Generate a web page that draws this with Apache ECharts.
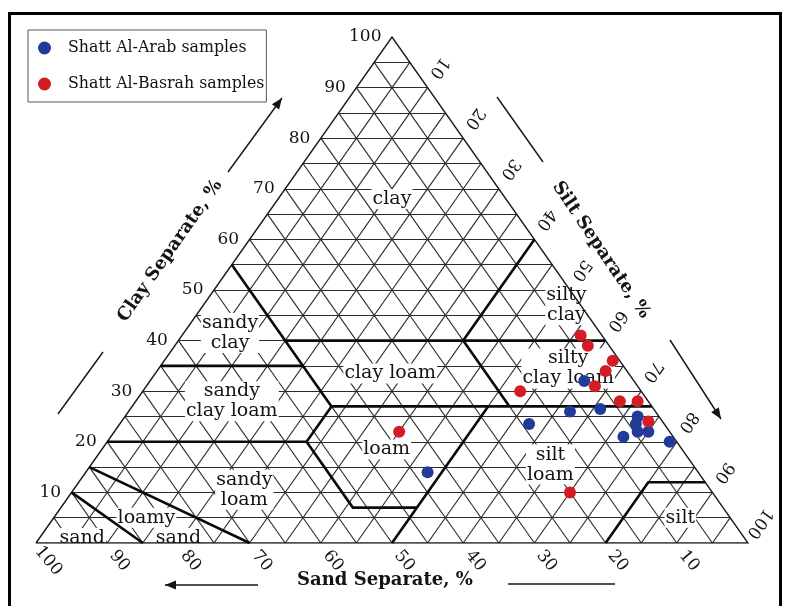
<!DOCTYPE html>
<html>
<head>
<meta charset="utf-8">
<script src="https://cdn.jsdelivr.net/npm/echarts@6/dist/echarts.min.js"></script>
<style>
  html, body { margin: 0; padding: 0; background: #fff; }
  #chart { width: 787px; height: 606px; }
</style>
</head>
<body>
<div id="chart"></div>
<script>
// Sample compositions, percent of sand / silt / clay
const arabSand   = [7, 12, 7.5, 3, 4, 4.5, 3, 7, 19, 1, 38];
const arabSilt   = [61, 62, 66, 72, 72.5, 73.5, 75, 72, 57.5, 79, 48];
const arabClay   = [32, 26, 26.5, 25, 23.5, 22, 22, 21, 23.5, 20, 14];

const basrahSand = [3, 3, 1, 3, 6, 17, 4, 1.5, 2, 38, 20];
const basrahSilt = [56, 58, 63, 63, 63, 53, 68, 70.5, 74, 40, 70];
const basrahClay = [41, 39, 36, 34, 31, 30, 28, 28, 24, 22, 10];

// Axis tick values and fine grid spacing (percent)
const axisTicks = [10, 20, 30, 40, 50, 60, 70, 80, 90, 100];
const gridStep = 5;

// USDA texture class boundaries as [sand, silt, clay] polylines
const textureBoundaries = [
  [[45, 0, 55], [45, 28, 27]],
  [[65, 0, 35], [45, 20, 35]],
  [[45, 15, 40], [0, 60, 40]],
  [[0, 40, 60], [20, 40, 40], [20, 53, 27]],
  [[45, 28, 27], [0, 73, 27]],
  [[80, 0, 20], [52, 28, 20], [45, 28, 27]],
  [[52, 28, 20], [52, 41, 7], [43, 50, 7]],
  [[50, 50, 0], [23, 50, 27]],
  [[85, 0, 15], [70, 30, 0]],
  [[90, 0, 10], [85, 15, 0]],
  [[20, 80, 0], [8, 80, 12], [0, 88, 12]]
];

// Texture class names and where each one is written
const textureNames = ['clay', 'silty\nclay', 'sandy\nclay', 'silty\nclay loam', 'clay loam',
  'sandy\nclay loam', 'loam', 'silt\nloam', 'sandy\nloam', 'loamy', 'sand', 'sand', 'silt'];
const textureAt = [[16, 16, 68], [2, 51, 47], [52, 6.5, 41.5], [8, 57.5, 34.5], [33.5, 33, 33.5],
  [58.5, 13.5, 28], [41.5, 40, 18.5], [20, 64.5, 15.5], [65.5, 24, 10.5], [82, 13, 5],
  [79.5, 19.5, 1], [93, 6, 1], [7, 88, 5]];

// ternary (sand, silt, clay) -> cartesian (x, y) on the 0..100 axes
const proj = (sand, silt, clay) => [silt + clay / 2, clay];

const SERIF = 'DejaVu Serif';
const INK = '#141414';

// fine triangular grid
const gridLines = [];
for (let v = gridStep; v < 100; v += gridStep) {
  gridLines.push({ coords: [proj(100 - v, 0, v), proj(0, 100 - v, v)] });   // clay
  gridLines.push({ coords: [proj(v, 0, 100 - v), proj(v, 100 - v, 0)] });   // sand
  gridLines.push({ coords: [proj(0, v, 100 - v), proj(100 - v, v, 0)] });   // silt
}
const outline = [{ coords: [proj(100, 0, 0), proj(0, 100, 0), proj(0, 0, 100), proj(100, 0, 0)] }];
const boundaryLines = textureBoundaries.map(pl => ({ coords: pl.map(p => proj(p[0], p[1], p[2])) }));

const textureData = textureNames.map((n, i) => ({ name: n, value: proj(...textureAt[i]) }));

// tick label anchors
const clayTicks = axisTicks.map(c => ({ name: String(c), value: proj(100 - c, 0, c) }));
const sandTicks = axisTicks.map(s => ({ name: String(s), value: proj(s, 100 - s + 4, -4) }));
const siltTicks = axisTicks.map(t => ({ name: String(t), value: proj(-4, t, 104 - t) }));

const hidden = { color: 'rgba(0,0,0,0)', opacity: 1 };
const tickFont = { fontFamily: SERIF, fontSize: 17, color: INK };

function arrow(x1, y1, x2, y2, head) {
  const a = Math.atan2(y2 - y1, x2 - x1);
  const items = [{
    type: 'line', silent: true,
    shape: { x1, y1, x2, y2 },
    style: { stroke: INK, lineWidth: 1.4 }
  }];
  if (head) {
    const L = 11, w = 4.5;
    const bx = x2 - L * Math.cos(a), by = y2 - L * Math.sin(a);
    items.push({
      type: 'polygon', silent: true,
      shape: { points: [[x2, y2], [bx - w * Math.sin(a), by + w * Math.cos(a)], [bx + w * Math.sin(a), by - w * Math.cos(a)]] },
      style: { fill: INK }
    });
  }
  return items;
}

const chart = echarts.init(document.getElementById('chart'));
chart.setOption({
  animation: false,
  backgroundColor: '#fff',
  grid: { left: 36, top: 37, width: 712, height: 506 },
  xAxis: { type: 'value', min: 0, max: 100, show: false },
  yAxis: { type: 'value', min: 0, max: 100, show: false },
  legend: {
    left: 28, top: 30, orient: 'vertical',
    itemWidth: 13, itemHeight: 13, itemGap: 20,
    padding: [10, 2, 10, 10],
    borderColor: '#555', borderWidth: 1,
    icon: 'circle',
    textStyle: { fontFamily: SERIF, fontSize: 15.8, color: '#111', padding: [0, 0, 0, 12] },
    data: ['Shatt Al-Arab samples', 'Shatt Al-Basrah samples']
  },
  graphic: [
    { type: 'rect', silent: true, shape: { x: 9.5, y: 13.5, width: 771, height: 640 },
      style: { fill: 'none', stroke: '#000', lineWidth: 3 } },
    { type: 'text', x: 170, y: 251, rotation: 55 * Math.PI / 180, silent: true,
      style: { text: 'Clay Separate, %', fontFamily: SERIF, fontWeight: 'bold', fontSize: 18, fill: INK, align: 'center', verticalAlign: 'middle' } },
    { type: 'text', x: 601, y: 250, rotation: -56 * Math.PI / 180, silent: true,
      style: { text: 'Silt Separate, %', fontFamily: SERIF, fontWeight: 'bold', fontSize: 18, fill: INK, align: 'center', verticalAlign: 'middle' } },
    { type: 'text', x: 385, y: 580, silent: true,
      style: { text: 'Sand Separate, %', fontFamily: SERIF, fontWeight: 'bold', fontSize: 18, fill: INK, align: 'center', verticalAlign: 'middle' } },
    ...arrow(228, 172, 282, 98, true),
    ...arrow(58, 414, 103, 352, false),
    ...arrow(497, 97, 543, 162, false),
    ...arrow(670, 340, 721, 419, true),
    ...arrow(258, 585, 165, 585, true),
    ...arrow(508, 584, 615, 584, false)
  ],
  series: [
    { type: 'lines', coordinateSystem: 'cartesian2d', z: 1, silent: true,
      data: gridLines, lineStyle: { color: '#2c2c2c', width: 1.15, opacity: 1 } },
    { type: 'scatter', z: 2, silent: true, clip: false, symbolSize: 1, itemStyle: hidden,
      data: textureData,
      label: { show: true, position: 'inside', formatter: '{b}', fontFamily: SERIF, fontSize: 19,
        color: INK, lineHeight: 20, align: 'center', verticalAlign: 'middle',
        backgroundColor: '#fff', padding: [0, 1] } },
    { type: 'lines', coordinateSystem: 'cartesian2d', z: 3, silent: true,
      data: outline, polyline: true, lineStyle: { color: '#1a1a1a', width: 1.4, opacity: 1 } },
    { type: 'lines', coordinateSystem: 'cartesian2d', z: 3, silent: true,
      data: boundaryLines, polyline: true, lineStyle: { color: '#0a0a0a', width: 2.6, opacity: 1 } },
    { type: 'scatter', z: 2, silent: true, clip: false, symbolSize: 1, itemStyle: hidden,
      data: clayTicks,
      label: { show: true, position: 'left', distance: 10, formatter: '{b}', ...tickFont } },
    { type: 'scatter', z: 2, silent: true, clip: false, symbolSize: 1, itemStyle: hidden,
      data: sandTicks,
      label: { show: true, position: 'inside', rotate: -50, offset: [-3, 0], formatter: '{b}', ...tickFont } },
    { type: 'scatter', z: 2, silent: true, clip: false, symbolSize: 1, itemStyle: hidden,
      data: siltTicks,
      label: { show: true, position: 'inside', rotate: -125, offset: [2, 2], formatter: '{b}', ...tickFont } },
    { name: 'Shatt Al-Arab samples', type: 'scatter', z: 5, symbolSize: 12,
      itemStyle: { color: '#213c98', opacity: 1 },
      data: arabSilt.map((s, i) => proj(arabSand[i], s, arabClay[i])) },
    { name: 'Shatt Al-Basrah samples', type: 'scatter', z: 5, symbolSize: 12,
      itemStyle: { color: '#d31d26', opacity: 1 },
      data: basrahSilt.map((s, i) => proj(basrahSand[i], s, basrahClay[i])) }
  ]
});
</script>
</body>
</html>
